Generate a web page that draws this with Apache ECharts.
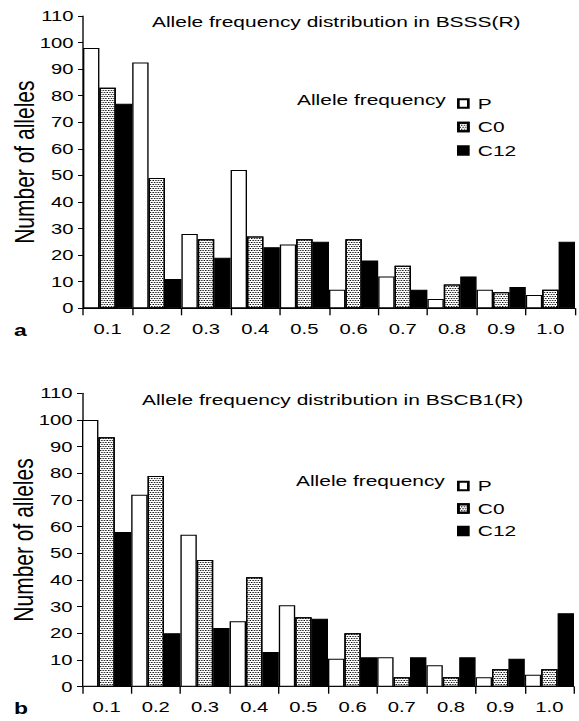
<!DOCTYPE html>
<html>
<head>
<meta charset="utf-8">
<script src="https://cdn.jsdelivr.net/npm/echarts@6/dist/echarts.min.js"></script>
<style>
html,body{margin:0;padding:0;background:#fff;overflow:hidden;}
#chart{width:429px;height:721px;transform:scaleX(1.34965);transform-origin:0 0;}
</style>
</head>
<body>
<div id="chart"></div>
<script>
// ---- data ----
const categories = ['0.1','0.2','0.3','0.4','0.5','0.6','0.7','0.8','0.9','1.0'];
const seriesNames = ['P','C0','C12'];
const yTicks = {min: 0, max: 110, interval: 10};

const titleA = 'Allele frequency distribution in BSSS(R)';
const titleB = 'Allele frequency distribution in BSCB1(R)';

const bsssP   = [98, 92.5, 28, 52, 24, 7, 12, 3.5, 7, 5];
const bsssC0  = [83, 49, 26, 27, 26, 26, 16, 9, 6, 7];
const bsssC12 = [77, 11, 19, 23, 25, 18, 7, 12, 8, 25];

const bscbP   = [100, 72, 57, 24.5, 30.5, 10.5, 11, 8, 3.5, 4.5];
const bscbC0  = [93.5, 79, 47.5, 41, 26, 20, 3.5, 3.5, 6.5, 6.5];
const bscbC12 = [58, 20, 22, 13, 25.5, 11, 11, 11, 10.5, 27.5];

// ---- styling ----
const S = 1.34965; // horizontal stretch applied via CSS
const FONT = '"Liberation Sans", Arial, Helvetica, sans-serif';
const dotDecal = {
  symbol: 'rect', symbolSize: 1,
  dashArrayX: [[1, 1], [0, 1, 1, 0]],
  dashArrayY: [1, 1],
  color: '#000', backgroundColor: '#fff', rotation: 0
};
const styles = {
  P:   {color: '#fff', borderColor: '#000', borderWidth: 1},
  C0:  {color: '#fff', borderColor: '#000', borderWidth: 1, decal: dotDecal},
  C12: {color: '#000', borderColor: '#000', borderWidth: 1}
};

function grid(leftReal, rightReal, top, bottom) {
  return {left: leftReal / S, width: (rightReal - leftReal) / S, top: top, height: bottom - top, containLabel: false, outerBoundsMode: 'none'};
}
function xAxis(gi) {
  return {
    type: 'category', gridIndex: gi, data: categories, boundaryGap: true,
    axisLine: {lineStyle: {color: '#000', width: 1}},
    axisTick: {show: true, length: 7, interval: 0, lineStyle: {color: '#000'}},
    axisLabel: {interval: 0, color: '#000', fontFamily: FONT, fontSize: 15, margin: 13}
  };
}
function yAxis(gi) {
  return {
    type: 'value', gridIndex: gi, min: yTicks.min, max: yTicks.max, interval: yTicks.interval,
    name: 'Number of alleles', nameLocation: 'middle', nameGap: 33.5, nameMoveOverlap: false,
    nameTextStyle: {color: '#000', fontFamily: FONT, fontSize: 21},
    axisLine: {show: true, lineStyle: {color: '#000', width: 1}},
    axisTick: {show: true, length: 3.7, lineStyle: {color: '#000'}},
    axisLabel: {color: '#000', fontFamily: FONT, fontSize: 15, margin: 7},
    splitLine: {show: false}
  };
}
function bars(gi, arrs) {
  return seriesNames.map((n, i) => ({
    name: n, type: 'bar', xAxisIndex: gi, yAxisIndex: gi, data: arrs[i],
    barGap: '0%', barCategoryGap: '0%', itemStyle: styles[n], silent: true
  }));
}
function legend(top, gap) {
  return {
    orient: 'vertical', left: 457 / S, top: top, icon: 'rect', padding: 0,
    itemWidth: 7.4, itemHeight: 8.5, itemGap: gap, selectedMode: false,
    data: seriesNames,
    textStyle: {color: '#000', fontFamily: FONT, fontSize: 15.5, lineHeight: 16, padding: [0, 0, 0, 2]}
  };
}
function txt(x, y, text, size, weight) {
  return {type: 'text', x: x / S, y: y, style: {
    text: text, fontFamily: FONT, fontSize: size, fontWeight: weight || 'normal',
    fill: '#000', textVerticalAlign: 'middle', textAlign: 'left'}};
}

const chart = echarts.init(document.getElementById('chart'), null, {renderer: 'svg'});
chart.setOption({
  animation: false,
  backgroundColor: '#fff',
  grid: [grid(83, 575, 16, 308.3), grid(82, 574, 393.3, 686.7)],
  xAxis: [xAxis(0), xAxis(1)],
  yAxis: [yAxis(0), yAxis(1)],
  legend: [legend(95.5, 7.5), legend(478, 6.5)],
  series: [...bars(0, [bsssP, bsssC0, bsssC12]), ...bars(1, [bscbP, bscbC0, bscbC12])],
  graphic: [
    txt(152, 22, titleA, 15.5),
    txt(142, 400, titleB, 15.5),
    txt(297, 100, 'Allele frequency', 15.5),
    txt(296, 481, 'Allele frequency', 15.5),
    txt(14, 330, 'a', 17, 'bold'),
    txt(14, 708, 'b', 17, 'bold')
  ]
});
</script>
</body>
</html>
